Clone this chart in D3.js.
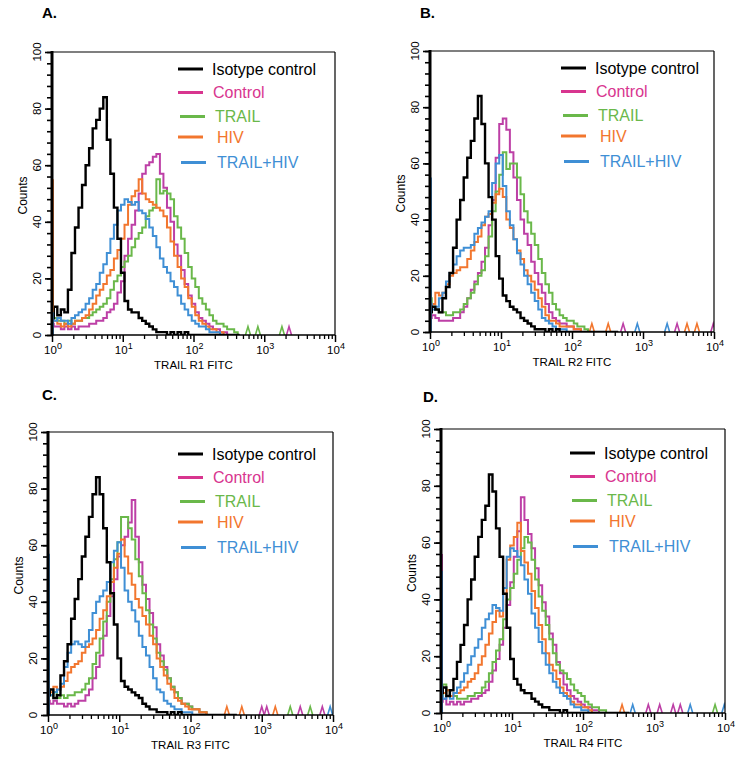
<!DOCTYPE html>
<html><head><meta charset="utf-8">
<script src="https://cdn.jsdelivr.net/npm/d3@7"></script>
<style>
body{margin:0;background:#fff;}
svg{display:block;font-family:"Liberation Sans",Arial,Helvetica,sans-serif;}
</style>
</head><body>
<svg id="chart" width="750" height="761"></svg>
<script>
// ---------------- DATA ----------------
const seriesNames = ["Isotype control", "Control", "TRAIL", "HIV", "TRAIL+HIV"];
const panelLetters = ["A.", "B.", "C.", "D."];
const axisTitles = ["TRAIL R1 FITC", "TRAIL R2 FITC", "TRAIL R3 FITC", "TRAIL R4 FITC"];
const yTickLabels = [0, 20, 40, 60, 80, 100];
const xTickExponents = [0, 1, 2, 3, 4];
// channel positions (log10 of FITC intensity), 0.05-decade bins from 10^0 to 10^2.6
const channelLog = d3.range(0, 2.6001, 0.05);

// Panel A (TRAIL R1)
const isoA   = [6,10,7,9,8,16,29,38,45,53, 60,66,73,76,80,84,69,57,45,34, 22,12,9,8,8,6,5,4,3,2, 1,1,1,0,1,0,1,0,1,0, 0,0,0,0,0,0,0,0,0,0, 0,0,0];
const ctrlA  = [4,3,3,2,3,2,3,2,3,3, 3,4,4,5,5,6,8,9,11,15, 19,28,34,39,44,50,57,60,61,63, 64,57,52,45,40,32,28,23,18,14, 11,8,6,5,4,3,2,2,1,1, 0,0,0];
const trailA = [8,6,5,5,4,5,4,5,5,6, 6,7,8,9,10,11,13,16,19,21, 24,26,28,31,34,36,38,42,44,45, 55,50,51,50,48,42,38,34,29,24, 20,17,13,11,9,7,5,4,4,3, 2,2,1];
const hivA   = [6,5,4,3,4,3,4,5,5,6, 7,9,11,14,16,18,21,23,27,30, 34,39,46,49,51,55,50,48,47,46, 45,44,42,38,33,28,24,20,17,13, 10,7,5,4,3,2,2,1,1,0, 0,0,0];
const bothA  = [7,5,6,5,5,4,6,7,8,9, 11,13,16,18,22,25,29,34,39,44, 46,48,47,46,47,44,43,41,38,35, 31,27,24,22,19,17,14,11,9,7, 5,4,3,3,2,1,1,1,0,0, 0,0,0];
// Panel B (TRAIL R2)
const isoB   = [7,9,8,7,12,16,21,30,40,47, 55,62,68,76,84,74,60,48,40,27, 19,13,11,9,8,7,5,4,3,2, 1,1,1,0,1,0,1,0,0,0, 0,0,0,0,0,0,0,0,0,0, 0,0,0];
const ctrlB  = [5,6,5,4,4,4,4,5,5,7, 9,12,15,18,21,25,30,38,47,62, 74,76,72,64,55,47,40,35,31,25, 21,17,14,10,7,5,4,3,3,2, 2,1,1,0,0,0,0,0,0,0, 0,0,0];
const trailB = [12,9,8,7,7,6,6,7,7,8, 10,12,14,17,20,22,27,34,43,50, 56,64,58,60,60,55,49,43,39,35, 31,26,21,17,14,10,8,6,5,4, 4,3,2,2,1,0,0,0,0,0, 0,0,0];
const hivB   = [8,10,14,13,14,17,20,21,22,23, 23,26,29,32,34,38,41,42,46,49, 51,48,40,37,33,29,26,22,20,18, 15,12,9,6,4,4,3,2,2,2, 2,1,1,0,0,0,0,0,0,0, 0,0,0];
const bothB  = [10,8,9,12,14,18,21,24,27,29, 30,30,31,35,37,39,41,43,53,60, 63,52,43,38,33,28,24,20,17,14, 11,8,5,4,3,2,1,1,1,0, 0,0,0,0,0,0,0,0,0,0, 0,0,0];
// Panel C (TRAIL R3)
const isoC   = [7,9,6,7,14,19,25,34,41,48, 56,63,70,78,84,78,66,54,43,32, 20,12,10,9,8,7,6,4,3,2, 2,1,1,1,0,1,0,1,0,0, 0,0,0,0,0,0,0,0,0,0, 0,0,0];
const ctrlC  = [5,4,5,4,4,3,4,3,4,5, 5,7,9,13,17,21,28,35,42,48, 56,60,63,68,76,63,54,46,41,36, 31,25,21,17,13,10,8,6,4,4, 3,2,2,1,1,0,0,0,0,0, 0,0,0];
const trailC = [8,7,8,6,7,6,7,7,8,8, 9,11,13,18,22,27,33,40,48,55, 61,70,70,66,62,55,49,43,37,32, 27,22,19,16,13,10,8,6,4,4, 3,2,2,1,1,0,0,0,0,0, 0,0,0];
const hivC   = [9,8,10,9,10,12,15,17,18,19, 22,24,25,27,30,34,37,42,47,52, 57,62,56,50,46,41,38,35,32,28, 25,20,17,14,11,9,6,5,4,3, 2,2,2,1,1,0,0,0,0,0, 0,0,0];
const bothC  = [8,7,8,9,11,17,22,25,26,25, 24,26,30,36,40,42,44,47,54,58, 61,52,44,40,37,33,28,24,21,17, 13,9,8,5,4,3,2,2,1,1, 1,0,0,0,0,0,0,0,0,0, 0,0,0];
// Panel D (TRAIL R4)
const isoD   = [7,9,6,8,12,18,24,31,40,47, 55,62,68,73,84,78,65,55,42,30, 19,12,10,8,7,7,5,4,3,2, 2,1,1,1,0,1,0,0,0,0, 0,0,0,0,0,0,0,0,0,0, 0,0,0];
const ctrlD  = [4,5,3,4,3,4,3,4,4,5, 5,6,7,8,11,15,19,24,30,38, 46,55,64,76,68,63,58,51,45,39, 34,28,24,18,14,10,8,6,5,4, 3,2,2,1,1,0,0,0,0,0, 0,0,0];
const trailD = [6,10,8,6,6,5,5,5,6,6, 7,7,9,11,14,18,22,26,33,40, 44,49,54,58,62,60,54,47,41,36, 31,26,21,17,15,14,12,10,8,7, 6,4,3,2,2,1,1,0,0,0, 0,0,0];
const hivD   = [8,7,8,6,7,7,8,9,11,12, 14,17,20,24,28,32,36,34,42,54, 59,62,67,57,53,49,43,37,31,26, 21,17,15,12,9,7,6,4,3,3, 2,2,1,0,0,0,0,0,0,0, 0,0,0];
const bothD  = [6,5,6,5,7,9,11,14,17,20, 23,26,30,33,35,38,37,36,44,55, 58,57,55,52,47,42,35,30,25,21, 17,14,11,9,7,6,5,3,2,2, 1,1,0,0,0,0,0,0,0,0, 0,0,0];

// first-channel pile-up counts (series index, counts)
const edgeA = [[0,12],[2,20],[3,55],[4,8]];
const edgeB = [[0,8],[2,15],[3,10],[4,55]];
const edgeC = [[0,10],[3,12],[4,57]];
const edgeD = [[0,9],[1,56],[4,50]];
// isolated high-intensity events (series index, log10 intensity)
const eventsA = [[2,2.77],[2,2.91],[2,3.25],[1,3.35]];
const eventsB = [[3,2.28],[3,2.51],[1,2.72],[4,2.92],[4,3.34],[1,3.48],[3,3.62],[3,3.76],[1,3.99]];
const eventsC = [[3,2.51],[3,2.72],[1,3.0],[1,3.07],[3,3.19],[2,3.40],[1,3.54],[2,3.68],[1,3.85],[4,3.96]];
const eventsD = [[3,2.55],[4,2.70],[1,2.92],[1,3.08],[1,3.27],[1,3.37],[4,3.51],[2,3.86],[4,3.99]];

// ---------------- STYLE / LAYOUT ----------------
const curveColors  = ["#000000", "#bd3fa6", "#6ab84a", "#f2762e", "#3f8fd5"];
const legendColors = ["#000000", "#d8358f", "#6ab84a", "#f2762e", "#3f8fd5"];
const panels = [
  {x:52,  y:52,  w:283, h:283, lab:[42,18],  leg:[178,69],  series:[isoA,ctrlA,trailA,hivA,bothA], edge:edgeA, ev:eventsA},
  {x:430, y:51,  w:284, h:281, lab:[420,18], leg:[561,68],  series:[isoB,ctrlB,trailB,hivB,bothB], edge:edgeB, ev:eventsB},
  {x:48,  y:432, w:285, h:283, lab:[42,400], leg:[178,454], series:[isoC,ctrlC,trailC,hivC,bothC], edge:edgeC, ev:eventsC},
  {x:441, y:429, w:284, h:284, lab:[423,402],leg:[570,453], series:[isoD,ctrlD,trailD,hivD,bothD], edge:edgeD, ev:eventsD},
];
const legRowDy = [0, 23.5, 47.5, 68, 93.5];
const legLineDx = [0, 0, 2, 0, 3];
const legTextDx = [34, 35, 37, 39, 39];

const svg = d3.select("#chart");

panels.forEach((p, pi) => {
  const g = svg.append("g");
  const x = d3.scaleLog().domain([1, 1e4]).range([p.x, p.x + p.w]);
  const y = d3.scaleLinear().domain([0, 100]).range([p.y + p.h, p.y]);

  // panel letter
  g.append("text").attr("x", p.lab[0]).attr("y", p.lab[1])
    .attr("font-size", 15).attr("font-weight", "bold").text(panelLetters[pi]);

  // clip
  const cid = "clip" + pi;
  svg.append("clipPath").attr("id", cid).append("rect")
    .attr("x", p.x).attr("y", p.y - 1).attr("width", p.w).attr("height", p.h + 1);
  const plot = g.append("g").attr("clip-path", `url(#${cid})`);

  const line = d3.line()
    .x(d => x(Math.pow(10, d[0])))
    .y(d => y(d[1]))
    .curve(d3.curveStep);

  // isolated events
  plot.selectAll("path.ev").data(p.ev).join("path")
    .attr("fill", "none").attr("stroke-width", 1.6)
    .attr("stroke", d => curveColors[d[0]])
    .attr("d", d => {
      const cx = x(Math.pow(10, d[1]));
      return `M${cx - 2.5},${y(0)}L${cx},${y(3)}L${cx + 2.5},${y(0)}`;
    });

  // histograms: colored first, isotype on top
  const order = [1, 2, 3, 4, 0];
  order.forEach(si => {
    const vals = p.series[si];
    const pts = vals.map((v, i) => [channelLog[i], v]);
    pts.push([channelLog[channelLog.length - 1] + 0.05, 0]);
    plot.append("path").attr("fill", "none")
      .attr("stroke", curveColors[si])
      .attr("stroke-width", si === 0 ? 2.4 : 2)
      .attr("stroke-linejoin", "miter")
      .attr("d", line(pts));
  });

  // first-channel pile-ups
  plot.selectAll("line.edge").data(p.edge).join("line")
    .attr("x1", x(1.03)).attr("x2", x(1.03))
    .attr("y1", y(0)).attr("y2", d => y(d[1]))
    .attr("stroke", d => curveColors[d[0]]).attr("stroke-width", 2);

  // frame
  g.append("line").attr("x1", p.x).attr("x2", p.x + p.w).attr("y1", p.y).attr("y2", p.y)
    .attr("stroke", "#000").attr("stroke-width", 1.2);
  g.append("line").attr("x1", p.x + p.w).attr("x2", p.x + p.w).attr("y1", p.y).attr("y2", p.y + p.h)
    .attr("stroke", "#000").attr("stroke-width", 1.2);
  g.append("line").attr("x1", p.x).attr("x2", p.x + p.w).attr("y1", p.y + p.h).attr("y2", p.y + p.h)
    .attr("stroke", "#000").attr("stroke-width", 1.6);

  // y axis ticks
  const yMinor = g.append("g").attr("transform", `translate(${p.x},0)`)
    .call(d3.axisLeft(y).tickValues(d3.range(0, 101, 4)).tickSize(5).tickFormat(""));
  yMinor.select(".domain").remove();
  yMinor.selectAll("line").attr("stroke-width", 1.6);
  const yMajor = g.append("g").attr("transform", `translate(${p.x},0)`)
    .call(d3.axisLeft(y).tickValues(yTickLabels).tickSize(7).tickFormat(""));
  yMajor.select(".domain").remove();
  yMajor.selectAll("line").attr("stroke-width", 1.6);
  g.append("line").attr("x1", p.x).attr("x2", p.x).attr("y1", p.y - 1).attr("y2", p.y + p.h + 1)
    .attr("stroke", "#000").attr("stroke-width", 3);

  g.selectAll("text.ylab").data(yTickLabels).join("text")
    .attr("transform", d => `translate(${p.x - 11},${y(d)}) rotate(-90)`)
    .attr("text-anchor", "middle").attr("font-size", 11.5).text(d => d);
  g.append("text")
    .attr("transform", `translate(${p.x - 25},${p.y + p.h / 2 + 2}) rotate(-90)`)
    .attr("text-anchor", "middle").attr("font-size", 12).text("Counts");

  // x axis ticks
  const minorVals = [];
  xTickExponents.slice(0, -1).forEach(e => { for (let k = 2; k <= 9; k++) minorVals.push(k * Math.pow(10, e)); });
  const xMinor = g.append("g").attr("transform", `translate(0,${p.y + p.h})`)
    .call(d3.axisBottom(x).tickValues(minorVals).tickSize(4).tickFormat(""));
  xMinor.select(".domain").remove();
  xMinor.selectAll("line").attr("stroke-width", 1.3);
  const xMajor = g.append("g").attr("transform", `translate(0,${p.y + p.h})`)
    .call(d3.axisBottom(x).tickValues(xTickExponents.map(e => Math.pow(10, e))).tickSize(7).tickFormat(""));
  xMajor.select(".domain").remove();
  xMajor.selectAll("line").attr("stroke-width", 1.5);

  const xl = g.selectAll("text.xlab").data(xTickExponents).join("text")
    .attr("x", d => x(Math.pow(10, d)) + 1).attr("y", p.y + p.h + 19)
    .attr("text-anchor", "middle").attr("font-size", 11.5);
  xl.append("tspan").text("10");
  xl.append("tspan").attr("dy", -5).attr("font-size", 9).text(d => d);

  g.append("text").attr("x", p.x + p.w / 2).attr("y", p.y + p.h + 34)
    .attr("text-anchor", "middle").attr("font-size", 11.5).text(axisTitles[pi]);

  // legend
  seriesNames.forEach((name, si) => {
    const ly = p.leg[1] + legRowDy[si];
    g.append("line").attr("x1", p.leg[0] + legLineDx[si]).attr("x2", p.leg[0] + legLineDx[si] + 25)
      .attr("y1", ly).attr("y2", ly)
      .attr("stroke", legendColors[si]).attr("stroke-width", 3);
    g.append("text").attr("x", p.leg[0] + legTextDx[si]).attr("y", ly + 5.5)
      .attr("font-size", 16).attr("fill", legendColors[si]).text(name);
  });
});
</script>
</body></html>
